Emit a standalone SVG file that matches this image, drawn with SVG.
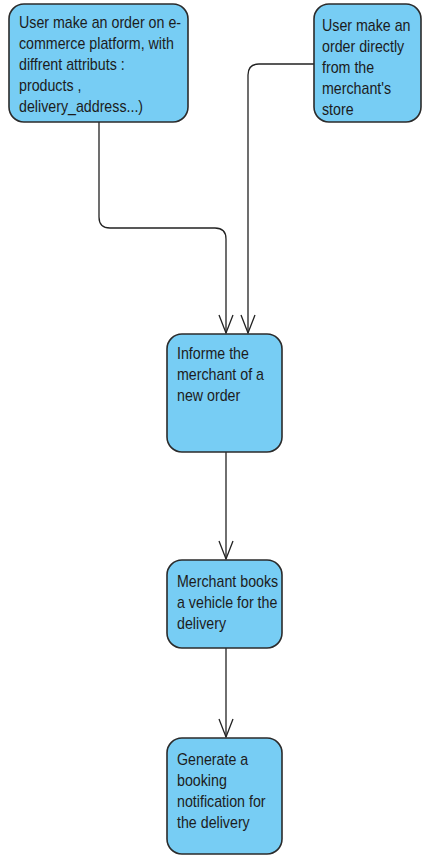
<svg xmlns="http://www.w3.org/2000/svg" width="422" height="856" viewBox="0 0 422 856">
  <defs>
    <style>
      .box { fill: #77cdf4; stroke: #2b2b2b; stroke-width: 1.6; }
      .lbl { font-family: "Liberation Sans", Arial, sans-serif; font-size: 16px; fill: #1c1c1c; }
      .edge { fill: none; stroke: #222; stroke-width: 1.3; }
      .head { fill: none; stroke: #222; stroke-width: 1.3; }
    </style>
  </defs>
  <rect width="422" height="856" fill="#ffffff"/>

  <g id="connectors">
    <path class="edge" d="M99,122 V217 Q99,228 110,228 H215 Q226,228 226,239 V333"/>
    <path class="head" d="M219,315 L226,333 L233,315"/>
    <path class="edge" d="M314,64 H259 Q248,64 248,75 V333"/>
    <path class="head" d="M241,315 L248,333 L255,315"/>
    <path class="edge" d="M226,452 V559"/>
    <path class="head" d="M219,541 L226,559 L233,541"/>
    <path class="edge" d="M226,648 V737"/>
    <path class="head" d="M219,719 L226,737 L233,719"/>
  </g>

  <g id="order-ecommerce">
    <rect class="box" x="9" y="4" width="179" height="118" rx="15"/>
    <text class="lbl" transform="translate(19,0) scale(0.89,1)">
      <tspan x="0" y="28">User make an order on e-</tspan>
      <tspan x="0" y="49">commerce platform, with</tspan>
      <tspan x="0" y="70">diffrent attributs :</tspan>
      <tspan x="0" y="91">products ,</tspan>
      <tspan x="0" y="112">delivery_address...)</tspan>
    </text>
  </g>

  <g id="order-store">
    <rect class="box" x="314" y="4" width="107" height="118" rx="15"/>
    <text class="lbl" transform="translate(322,0) scale(0.89,1)">
      <tspan x="0" y="31">User make an</tspan>
      <tspan x="0" y="52">order directly</tspan>
      <tspan x="0" y="73">from the</tspan>
      <tspan x="0" y="94">merchant's</tspan>
      <tspan x="0" y="115">store</tspan>
    </text>
  </g>

  <g id="inform-merchant">
    <rect class="box" x="167" y="334" width="115" height="118" rx="15"/>
    <text class="lbl" transform="translate(177,0) scale(0.89,1)">
      <tspan x="0" y="359">Informe the</tspan>
      <tspan x="0" y="380">merchant of a</tspan>
      <tspan x="0" y="401">new order</tspan>
    </text>
  </g>

  <g id="book-vehicle">
    <rect class="box" x="167" y="560" width="115" height="88" rx="15"/>
    <text class="lbl" transform="translate(177,0) scale(0.89,1)">
      <tspan x="0" y="587">Merchant books</tspan>
      <tspan x="0" y="608">a vehicle for the</tspan>
      <tspan x="0" y="629">delivery</tspan>
    </text>
  </g>

  <g id="booking-notification">
    <rect class="box" x="167" y="738" width="115" height="116" rx="15"/>
    <text class="lbl" transform="translate(177,0) scale(0.89,1)">
      <tspan x="0" y="765">Generate a</tspan>
      <tspan x="0" y="786">booking</tspan>
      <tspan x="0" y="807">notification for</tspan>
      <tspan x="0" y="828">the delivery</tspan>
    </text>
  </g>
</svg>
